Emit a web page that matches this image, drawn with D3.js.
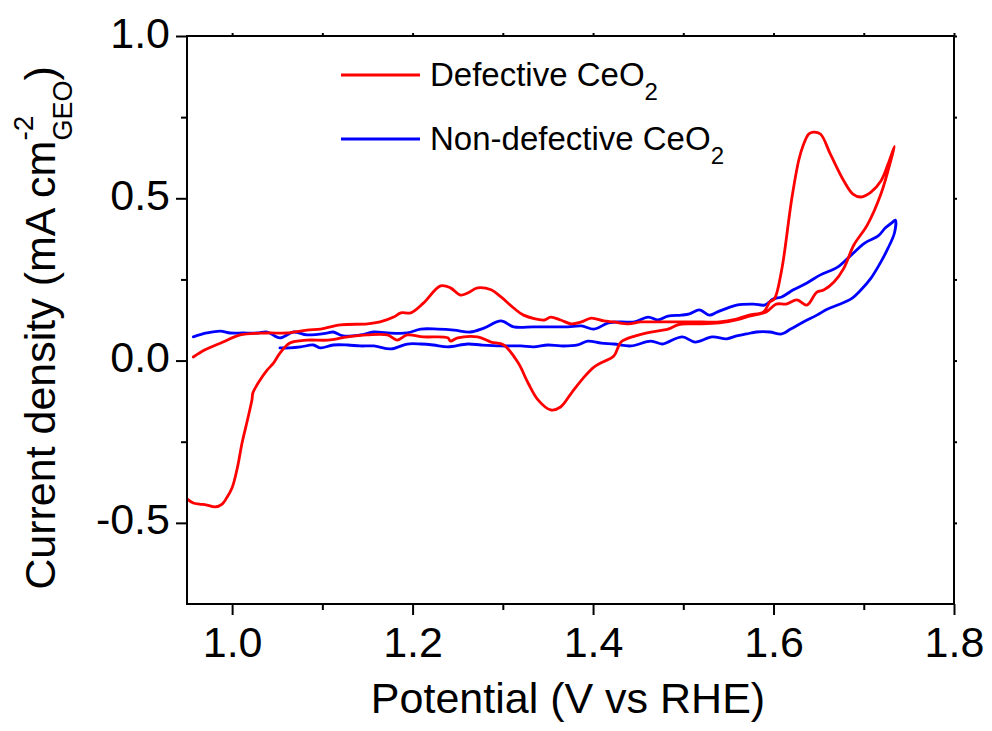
<!DOCTYPE html>
<html>
<head>
<meta charset="utf-8">
<script src="https://cdn.jsdelivr.net/npm/d3@7"></script>
<style>
  html, body { margin: 0; padding: 0; background: #fff; }
  svg { display: block; font-family: "Liberation Sans", Arial, sans-serif; }
</style>
</head>
<body>
<svg id="chart" width="992" height="731"></svg>
<script>
// ---------------- DATA ----------------
const xMajorTicks = [1.0, 1.2, 1.4, 1.6, 1.8];
const xTickLabels = ["1.0", "1.2", "1.4", "1.6", "1.8"];
const xMinorTicks = [1.1, 1.3, 1.5, 1.7];
const yMajorTicks = [-0.5, 0.0, 0.5, 1.0];
const yTickLabels = ["-0.5", "0.0", "0.5", "1.0"];
const yMinorTicks = [-0.25, 0.25, 0.75];

const seriesNames = ["Defective CeO", "Non-defective CeO"];
const seriesColors = ["#ff0000", "#0000ff"];

// Defective CeO2: anodic scan then cathodic scan (potential V vs RHE)
const defectiveV = [
  0.957, 0.970, 0.990, 1.009, 1.039, 1.061, 1.083, 1.098, 1.120, 1.150, 1.164, 1.179, 1.187, 1.198,
  1.212, 1.231, 1.242, 1.253, 1.261, 1.272, 1.287, 1.298, 1.312, 1.323, 1.346, 1.353, 1.364, 1.376,
  1.387, 1.398, 1.412, 1.423, 1.439, 1.453, 1.468, 1.483, 1.498, 1.521, 1.540, 1.559, 1.573, 1.589,
  1.596, 1.601, 1.609, 1.620, 1.628, 1.633, 1.639, 1.644, 1.652, 1.663, 1.678, 1.688, 1.697, 1.708,
  1.719, 1.727, 1.734,
  1.731, 1.719, 1.704, 1.689, 1.678, 1.667, 1.656, 1.648, 1.637, 1.626, 1.614, 1.603, 1.592, 1.573,
  1.559, 1.540, 1.521, 1.507, 1.494, 1.483, 1.464, 1.447, 1.431, 1.423, 1.409, 1.401, 1.390, 1.376,
  1.364, 1.353, 1.339, 1.328, 1.317, 1.301, 1.287, 1.272, 1.250, 1.242, 1.239, 1.212, 1.194, 1.183,
  1.172, 1.150, 1.128, 1.106, 1.083, 1.064, 1.053, 1.046, 1.039, 1.031, 1.023, 1.022, 1.017, 1.011,
  1.006, 1.000, 0.994, 0.989, 0.981, 0.972, 0.964, 0.957, 0.950
];
const defectiveJ = [
  0.011, 0.033, 0.057, 0.079, 0.085, 0.085, 0.094, 0.097, 0.110, 0.113, 0.119, 0.134, 0.147, 0.147,
  0.177, 0.230, 0.224, 0.202, 0.208, 0.224, 0.218, 0.196, 0.162, 0.140, 0.125, 0.134, 0.125, 0.113,
  0.119, 0.131, 0.122, 0.119, 0.113, 0.119, 0.119, 0.119, 0.119, 0.119, 0.119, 0.128, 0.140, 0.150,
  0.181, 0.190, 0.279, 0.495, 0.618, 0.664, 0.698, 0.704, 0.698, 0.636, 0.553, 0.513, 0.504, 0.519,
  0.553, 0.606, 0.660,
  0.627, 0.513, 0.418, 0.356, 0.285, 0.242, 0.218, 0.211, 0.171, 0.187, 0.174, 0.174, 0.150, 0.137,
  0.125, 0.116, 0.113, 0.113, 0.110, 0.097, 0.088, 0.076, 0.057, 0.014, -0.007, -0.020, -0.051, -0.100,
  -0.143, -0.152, -0.121, -0.069, -0.007, 0.048, 0.057, 0.073, 0.070, 0.060, 0.070, 0.073, 0.079, 0.063,
  0.079, 0.079, 0.073, 0.063, 0.063, 0.054, 0.023, -0.007, -0.029, -0.060, -0.100, -0.121, -0.183, -0.254,
  -0.328, -0.392, -0.423, -0.442, -0.451, -0.445, -0.442, -0.439, -0.426
];

// Non-defective CeO2
const nonDefectiveV = [
  0.957, 0.972, 0.987, 0.998, 1.012, 1.028, 1.039, 1.053, 1.068, 1.083, 1.106, 1.112, 1.123, 1.142,
  1.157, 1.172, 1.194, 1.209, 1.228, 1.246, 1.264, 1.279, 1.298, 1.312, 1.334, 1.353, 1.372, 1.387,
  1.401, 1.417, 1.431, 1.446, 1.461, 1.472, 1.483, 1.498, 1.507, 1.518, 1.529, 1.538, 1.559, 1.578,
  1.590, 1.600, 1.609, 1.622, 1.637, 1.652, 1.671, 1.686, 1.701, 1.716, 1.724, 1.731, 1.735,
  1.734, 1.727, 1.719, 1.708, 1.697, 1.686, 1.671, 1.660, 1.648, 1.633, 1.619, 1.609, 1.596, 1.581,
  1.570, 1.559, 1.548, 1.532, 1.513, 1.499, 1.483, 1.477, 1.464, 1.442, 1.423, 1.409, 1.394, 1.383,
  1.364, 1.350, 1.334, 1.320, 1.298, 1.276, 1.261, 1.239, 1.223, 1.209, 1.194, 1.176, 1.157, 1.142,
  1.128, 1.112, 1.098, 1.090, 1.076, 1.064, 1.053
];
const nonDefectiveJ = [
  0.073, 0.085, 0.091, 0.085, 0.085, 0.085, 0.088, 0.070, 0.088, 0.079, 0.085, 0.088, 0.076, 0.079,
  0.088, 0.085, 0.085, 0.097, 0.097, 0.094, 0.088, 0.100, 0.122, 0.104, 0.104, 0.104, 0.104, 0.107,
  0.097, 0.116, 0.119, 0.119, 0.134, 0.125, 0.137, 0.140, 0.144, 0.156, 0.140, 0.150, 0.171, 0.174,
  0.171, 0.190, 0.196, 0.218, 0.239, 0.264, 0.288, 0.325, 0.362, 0.384, 0.409, 0.424, 0.433,
  0.393, 0.347, 0.304, 0.254, 0.218, 0.190, 0.171, 0.159, 0.140, 0.119, 0.097, 0.082, 0.088, 0.088,
  0.082, 0.076, 0.067, 0.073, 0.057, 0.073, 0.057, 0.051, 0.060, 0.045, 0.051, 0.054, 0.060, 0.048,
  0.045, 0.048, 0.042, 0.045, 0.045, 0.048, 0.051, 0.042, 0.048, 0.051, 0.051, 0.036, 0.045, 0.045,
  0.048, 0.048, 0.039, 0.048, 0.042, 0.039, 0.039
];

// ---------------- LAYOUT ----------------
const svg = d3.select("#chart");
const L = 187, R = 954, T = 36, B = 604;
const x = d3.scaleLinear().domain([0.95, 1.8]).range([L, R]);
const y = d3.scaleLinear().domain([-0.75, 1.0]).range([B, T]);
const FONT = "'Liberation Sans', Arial, sans-serif";

svg.append("defs").append("clipPath").attr("id", "clip")
  .append("rect").attr("x", L).attr("y", T).attr("width", R - L).attr("height", B - T);

const line = d3.line().x(d => x(d[0])).y(d => y(d[1])).curve(d3.curveCatmullRom.alpha(0.5));
const seriesData = [
  defectiveV.map((v, i) => [v, defectiveJ[i]]),
  nonDefectiveV.map((v, i) => [v, nonDefectiveJ[i]])
];
const plotG = svg.append("g").attr("clip-path", "url(#clip)");
[1, 0].forEach(k => {
  plotG.append("path")
    .attr("d", line(seriesData[k]))
    .attr("fill", "none")
    .attr("stroke", seriesColors[k])
    .attr("stroke-width", 2.8)
    .attr("stroke-linejoin", "round")
    .attr("stroke-linecap", "round");
});

function styleAxis(g) {
  g.select(".domain").remove();
  g.selectAll(".tick line").attr("stroke", "#000").attr("stroke-width", 2);
}

const gxB = svg.append("g").attr("transform", `translate(0,${B})`)
  .call(d3.axisBottom(x).tickValues(xMajorTicks).tickSize(11)
    .tickFormat((d, i) => xTickLabels[i]));
styleAxis(gxB);
gxB.selectAll(".tick text")
  .attr("y", 53).attr("dy", 0)
  .attr("font-size", 43).attr("font-family", FONT).attr("fill", "#000");
const gxBm = svg.append("g").attr("transform", `translate(0,${B})`)
  .call(d3.axisBottom(x).tickValues(xMinorTicks).tickSize(6).tickFormat(""));
styleAxis(gxBm);
const gxT = svg.append("g").attr("transform", `translate(0,${T})`)
  .call(d3.axisTop(x).tickValues(xMajorTicks.concat(xMinorTicks)).tickSize(3).tickFormat(""));
styleAxis(gxT);

const gyL = svg.append("g").attr("transform", `translate(${L},0)`)
  .call(d3.axisLeft(y).tickValues(yMajorTicks).tickSize(11)
    .tickFormat((d, i) => yTickLabels[i]));
styleAxis(gyL);
gyL.selectAll(".tick text")
  .attr("x", -17).attr("dy", 0).attr("y", 11)
  .attr("font-size", 43).attr("font-family", FONT).attr("fill", "#000");
const gyLm = svg.append("g").attr("transform", `translate(${L},0)`)
  .call(d3.axisLeft(y).tickValues(yMinorTicks).tickSize(6).tickFormat(""));
styleAxis(gyLm);
const gyR = svg.append("g").attr("transform", `translate(${R},0)`)
  .call(d3.axisRight(y).tickValues(yMajorTicks.concat(yMinorTicks)).tickSize(3).tickFormat(""));
styleAxis(gyR);

svg.append("rect").attr("x", L).attr("y", T).attr("width", R - L).attr("height", B - T)
  .attr("fill", "none").attr("stroke", "#000").attr("stroke-width", 2);

svg.append("text").attr("x", 568).attr("y", 713).attr("text-anchor", "middle")
  .attr("font-size", 43).attr("font-family", FONT).attr("fill", "#000")
  .text("Potential (V vs RHE)");

const yt = svg.append("text")
  .attr("transform", "translate(55,328) rotate(-90)")
  .attr("font-family", FONT).attr("font-size", 43).attr("fill", "#000");
const tmp = svg.append("text").attr("font-family", FONT).attr("font-size", 28).text("-2");
const supW = tmp.node().getComputedTextLength();
tmp.remove();
yt.append("tspan").text("Current density (mA cm");
yt.append("tspan").attr("font-size", 28).attr("dy", -22).text("-2");
yt.append("tspan").attr("font-size", 27).attr("dx", -supW).attr("dy", 39).text("GEO");
yt.append("tspan").attr("dy", -17).text(")");
const ytW = yt.node().getBBox().width;
yt.attr("transform", `translate(55,${328 + ytW / 2}) rotate(-90)`);

const legY = [75, 139];
seriesNames.forEach((name, i) => {
  svg.append("line").attr("x1", 341).attr("x2", 420).attr("y1", legY[i]).attr("y2", legY[i])
    .attr("stroke", seriesColors[i]).attr("stroke-width", 2.8);
  const t = svg.append("text").attr("x", 430).attr("y", legY[i] + 11)
    .attr("font-family", FONT).attr("font-size", 33).attr("fill", "#000");
  t.append("tspan").text(name);
  t.append("tspan").attr("font-size", 24).attr("dy", 14).text("2");
});
</script>
</body>
</html>
